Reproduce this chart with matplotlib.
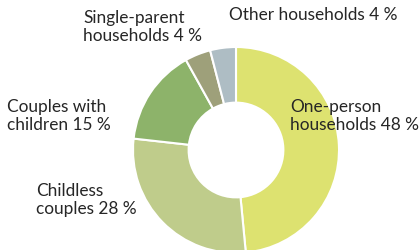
import matplotlib
matplotlib.use("Agg")
import matplotlib.pyplot as plt

labels = ["One-person\nhouseholds 48 %", "Childless\ncouples 28 %",
          "Couples with\nchildren 15 %", "Single-parent\nhouseholds 4 %",
          "Other households 4 %"]
shares = [48, 28, 15, 4, 4]
colors = ["#dde270", "#bfcc8b", "#8db36a", "#9ea07a", "#aebdc4"]

# label anchor points in pixels (left edge, vertical centre)
label_px = [(290, 116), (36, 200), (7, 116), (83, 27), (229, 15)]

W, H = 419, 251
cx, cy, r = 236, 151, 103

fig = plt.figure(figsize=(W / 100, H / 100), dpi=100)
ax = fig.add_axes([0, 0, 1, 1])
ax.pie(shares, colors=colors, startangle=90, counterclock=False,
       radius=1, wedgeprops=dict(width=0.54, edgecolor="white", linewidth=1.5))
ax.set_xlim(-cx / r, (W - cx) / r)
ax.set_ylim((cy - H) / r, cy / r)
ax.set_aspect("equal")
ax.axis("off")

for lab, (px, py) in zip(labels, label_px):
    ax.text((px - cx) / r, (cy - py) / r, lab, ha="left", va="center",
            fontsize=12.4, family="Lato", color="#262626", linespacing=1.15)

fig.savefig("out.png", dpi=100)
